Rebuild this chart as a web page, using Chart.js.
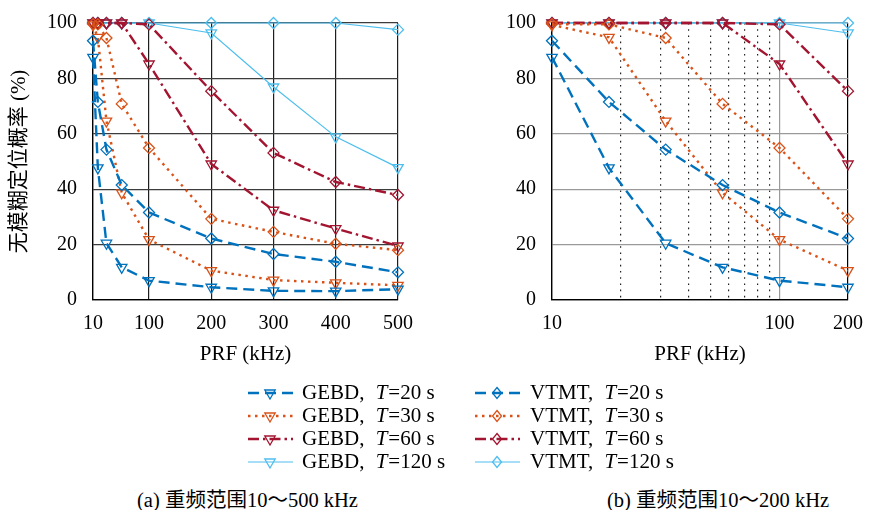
<!DOCTYPE html>
<html>
<head>
<meta charset="utf-8">
<script src="https://cdn.jsdelivr.net/npm/chart.js@4/dist/chart.umd.min.js"></script>
<style>
  body { margin: 0; background: #fff; width: 875px; height: 510px; position: relative; overflow: hidden;
         font-family: 'Liberation Serif', 'Noto Sans CJK SC', serif; color: #000; }
  canvas { position: absolute; }
  .cap { position: absolute; top: 483px; font-size: 20.5px; white-space: nowrap; }
</style>
</head>
<body>
<canvas id="chartA" width="430" height="370" style="left:0;top:0"></canvas>
<canvas id="chartB" width="435" height="370" style="left:440px;top:0"></canvas>
<canvas id="legend" width="500" height="100" style="left:230px;top:378px"></canvas>
<div class="cap" style="left:137px">(a) 重频范围10～500 kHz</div>
<div class="cap" style="left:607px">(b) 重频范围10～200 kHz</div>

<script>
// PRF sweep (kHz) and detection probability (%) for each method / observation time
const prf     = [10, 17.8, 31.6, 56.2, 100, 200, 300, 400, 500];
const gebd20  = [87.6, 47.7, 20.5, 11.8, 7.0, 4.6, 3.3, 3.2, 3.9];
const vtmt20  = [93.6, 71.5, 54.3, 41.5, 31.6, 22.2, 16.6, 13.8, 10.0];
const gebd30  = [99.3, 94.8, 64.6, 38.7, 21.8, 10.6, 7.2, 6.2, 5.3];
const vtmt30  = [99.6, 99.5, 94.6, 70.8, 54.9, 29.3, 24.6, 20.3, 18.0];
const gebd60  = [100, 100, 100, 100, 85.2, 49.1, 32.4, 25.8, 19.5];
const vtmt60  = [100, 100, 100, 100, 99.5, 75.4, 53.1, 42.6, 37.9];
const gebd120 = [100, 100, 100, 100, 100, 96.4, 76.9, 58.9, 47.8];
const vtmt120 = [100, 100, 100, 100, 100, 100, 100, 100, 97.6];

const ticksA  = [10, 100, 200, 300, 400, 500];
const ticksB  = [10, 20, 30, 40, 50, 60, 70, 80, 90, 100, 200];
const labelsB = [10, 100, 200];
const yTicks  = [0, 20, 40, 60, 80, 100];

const series = [
  { method: 'GEBD', T: 20,  data: gebd20 },
  { method: 'VTMT', T: 20,  data: vtmt20 },
  { method: 'GEBD', T: 30,  data: gebd30 },
  { method: 'VTMT', T: 30,  data: vtmt30 },
  { method: 'GEBD', T: 60,  data: gebd60 },
  { method: 'VTMT', T: 60,  data: vtmt60 },
  { method: 'GEBD', T: 120, data: gebd120 },
  { method: 'VTMT', T: 120, data: vtmt120 },
];

const FONT = "'Liberation Serif', 'Noto Sans CJK SC', serif";
const STYLE = {
  20:  { color: '#0072BD', dash: [11, 6],          width: 2.4 },
  30:  { color: '#D95319', dash: [2.5, 4.5],       width: 2.4 },
  60:  { color: '#A2142F', dash: [11, 4, 2.5, 4],  width: 2.4 },
  120: { color: '#4DBEEE', dash: [],               width: 1.2 },
};
const f = (size) => ({ family: FONT, size });

Chart.defaults.font.family = FONT;
Chart.defaults.color = '#000';

const makeDatasets = (n) => series.map(s => {
  const st = STYLE[s.T];
  const tri = s.method === 'GEBD';
  return {
    label: `${s.method}, T=${s.T} s`,
    data: s.data.slice(0, n).map((y, i) => ({ x: prf[i], y })),
    borderColor: st.color,
    borderDash: st.dash,
    borderWidth: st.width,
    pointStyle: tri ? 'triangle' : 'rectRot',
    pointRotation: tri ? 180 : 0,
    pointRadius: tri ? 6 : 5.5,
    pointBorderWidth: 1.3,
    pointBorderColor: st.color,
    pointBackgroundColor: 'rgba(0,0,0,0)',
    fill: false,
    tension: 0,
    clip: false,
  };
});

// fixed axis width; drop the extra label padding so the layout padding sets the plot top
const yAxis = (width, gridColor, title) => ({
  min: 0, max: 100,
  afterFit: (s) => { s.width = width; s.paddingTop = 10; s.paddingBottom = 10; },
  afterBuildTicks: (s) => { s.ticks = yTicks.map(v => ({ value: v })); },
  ticks: { padding: 16, font: f(20) },
  grid: { drawTicks: false, color: (c) => c.tick && c.tick.value === 0 ? '#000' : gridColor, lineWidth: 1.2 },
  border: { color: '#000', width: 1.3 },
  title: title ? { display: true, text: title, font: f(21), padding: { top: 7, bottom: 0 } } : { display: false },
});

const baseOpts = {
  responsive: false,
  animation: false,
  plugins: { legend: { display: false }, tooltip: { enabled: false } },
  elements: { line: { borderCapStyle: 'butt' } },
};

// ---------- (a) linear PRF 10-500 kHz ----------
new Chart(document.getElementById('chartA'), {
  type: 'line',
  data: { datasets: makeDatasets(prf.length) },
  options: {
    ...baseOpts,
    layout: { padding: { top: 23, right: 32, left: 0, bottom: 0 } },
    scales: {
      x: {
        type: 'linear', min: 10, max: 500,
        afterFit: (s) => { s.height = 70; },
        afterBuildTicks: (s) => { s.ticks = ticksA.map(v => ({ value: v })); },
        ticks: { padding: 12, maxRotation: 0, autoSkip: false, font: f(20) },
        grid: { drawTicks: false, color: '#1e1e1e', lineWidth: 1.2 },
        border: { color: '#000', width: 1.3 },
        title: { display: true, text: 'PRF (kHz)', font: f(21), padding: { top: 0, bottom: 3 } },
      },
      y: yAxis(93, '#3c3c3c', '无模糊定位概率 (%)'),
    },
  },
});

// ---------- (b) log PRF 10-200 kHz ----------
new Chart(document.getElementById('chartB'), {
  type: 'line',
  data: { datasets: makeDatasets(6) },
  options: {
    ...baseOpts,
    layout: { padding: { top: 23, right: 19, left: 0, bottom: 0 } },
    scales: {
      x: {
        type: 'logarithmic', min: 10, max: 200,
        afterFit: (s) => { s.height = 70; },
        afterBuildTicks: (s) => { s.ticks = ticksB.map(v => ({ value: v })); },
        ticks: {
          padding: 12, maxRotation: 0, autoSkip: false, font: f(20),
          callback: (v) => labelsB.includes(v) ? String(v) : '',
        },
        grid: {
          drawTicks: false, lineWidth: 1.2,
          color: (c) => {
            const v = c.tick && c.tick.value;
            if (v === 10 || v === 200) return '#000';
            if (v === 100) return '#9a9a9a';
            return '#222';
          },
        },
        border: {
          color: '#000', width: 1.3,
          dash: (c) => (c.tick && !labelsB.includes(c.tick.value)) ? [1.6, 4.6] : [],
        },
        title: { display: true, text: 'PRF (kHz)', font: f(21), padding: { top: 0, bottom: 3 } },
      },
      y: yAxis(112, '#9a9a9a', null),
    },
  },
});

// ---------- shared legend ----------
(function drawLegend() {
  const cv = document.getElementById('legend');
  const ctx = cv.getContext('2d');
  const rowY = [15, 38, 61, 84];
  const cols = { GEBD: { x0: 18, tx: 72 }, VTMT: { x0: 245, tx: 300 } };
  const Ts = [20, 30, 60, 120];
  ctx.textBaseline = 'middle';
  series.forEach(s => {
    const st = STYLE[s.T];
    const y = rowY[Ts.indexOf(s.T)];
    const { x0, tx } = cols[s.method];
    const cx = x0 + 22;
    ctx.save();
    ctx.strokeStyle = st.color;
    ctx.lineWidth = st.width;
    ctx.setLineDash(st.dash);
    ctx.beginPath(); ctx.moveTo(x0, y); ctx.lineTo(x0 + 45, y); ctx.stroke();
    ctx.setLineDash([]);
    ctx.lineWidth = 1.3;
    ctx.beginPath();
    if (s.method === 'GEBD') {
      ctx.moveTo(cx - 5.2, y - 3); ctx.lineTo(cx + 5.2, y - 3); ctx.lineTo(cx, y + 6);
    } else {
      ctx.moveTo(cx, y - 5.5); ctx.lineTo(cx + 4.5, y); ctx.lineTo(cx, y + 5.5); ctx.lineTo(cx - 4.5, y);
    }
    ctx.closePath(); ctx.stroke();
    ctx.restore();
    ctx.fillStyle = '#000';
    let x = tx;
    ctx.font = `21px ${FONT}`;
    const a = `${s.method}, `;
    ctx.fillText(a, x, y); x += ctx.measureText(a).width + 6;
    ctx.font = `italic 21px ${FONT}`;
    ctx.fillText('T', x, y); x += ctx.measureText('T').width + 1;
    ctx.font = `21px ${FONT}`;
    ctx.fillText(`=${s.T} s`, x, y);
  });
})();
</script>
</body>
</html>
